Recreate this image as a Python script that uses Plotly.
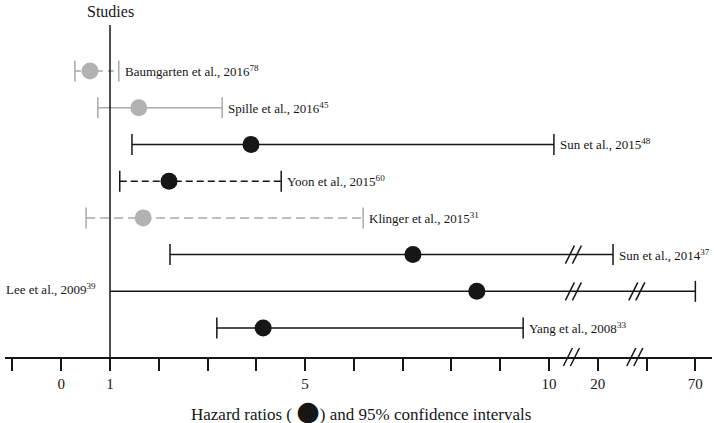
import numpy as np
import plotly.graph_objects as go

# ---------------- data ----------------
studies = ["Baumgarten et al., 2016", "Spille et al., 2016", "Sun et al., 2015",
           "Yoon et al., 2015", "Klinger et al., 2015", "Sun et al., 2014",
           "Lee et al., 2009", "Yang et al., 2008"]
refs = ["78", "45", "48", "60", "31", "37", "39", "33"]
hazard_ratio = [0.59, 1.59, 3.89, 2.21, 1.68, 7.21, 8.52, 4.14]
ci_low = [0.28, 0.75, 1.45, 1.20, 0.51, 2.23, 1.00, 3.19]
ci_high = [1.18, 3.30, 11.0, 4.51, 6.19, 27.8, 70.0, 9.47]
tone = ["gray", "gray", "black", "black", "gray", "black", "black", "black"]
line_dash = ["6px,5px", "solid", "solid", "7px,4px", "9px,5px", "solid", "solid", "solid"]
has_low_cap = [True, True, True, True, True, True, False, True]
label_side = ["right", "right", "right", "right", "right", "right", "left", "right"]

# broken axis: HR values -> axis positions
scale_hr = [0, 10, 20, 70]
scale_pos = [0, 10, 11, 13]
break_hr = [15, 40]
tick_pos = list(range(-1, 14))
tick_text = ["", "0", "1", "", "", "", "5", "", "", "", "", "10", "20", "", "70"]


def to_pos(v):
    return float(np.interp(v, scale_hr, scale_pos))


FONT = "Liberation Serif"
BLACK = "#161616"
GRAY_LINE = "#a9a9a9"
GRAY_MARK = "#b2b2b2"

W, H = 714, 423
ML, MR, MT, MB = 5, 2, 0, 66
PX_PER_X = 48.78          # pixels per axis unit
X0_PIX = 110              # pixel of position 1
ROW0_PIX, ROW_STEP = 71, 36.72

x_range = [1 - (X0_PIX - ML) / PX_PER_X, 1 + (W - MR - X0_PIX) / PX_PER_X]
plot_h = H - MT - MB
y_range = [(plot_h - ROW0_PIX) / ROW_STEP, (MT - ROW0_PIX) / ROW_STEP]

fig = go.Figure()
annotations = []
shapes = []


def slash_pair(xc, yc, xref, yref, up_per_px):
    # "//" : each stroke goes from lower-left to upper-right
    for off in (-3.5, 3.5):
        cx = xc + off / PX_PER_X
        shapes.append(dict(type="line", xref=xref, yref=yref,
                           x0=cx - 4.5 / PX_PER_X, y0=yc - 9 * up_per_px,
                           x1=cx + 4.5 / PX_PER_X, y1=yc + 9 * up_per_px,
                           line=dict(color=BLACK, width=1.5)))


for i, name in enumerate(studies):
    col_line = BLACK if tone[i] == "black" else GRAY_LINE
    col_mark = BLACK if tone[i] == "black" else GRAY_MARK
    lo, hi, pt = to_pos(ci_low[i]), to_pos(ci_high[i]), to_pos(hazard_ratio[i])
    # CI line
    fig.add_trace(go.Scatter(x=[lo, hi], y=[i, i], mode="lines",
                             line=dict(color=col_line, width=1.5, dash=line_dash[i]),
                             hoverinfo="skip", showlegend=False))
    # caps
    cap_x = ([lo] if has_low_cap[i] else []) + [hi]
    fig.add_trace(go.Scatter(x=cap_x, y=[i] * len(cap_x), mode="markers",
                             marker=dict(symbol="line-ns", size=15,
                                         line=dict(color=col_line, width=1.5)),
                             hoverinfo="skip", showlegend=False))
    # point estimate
    fig.add_trace(go.Scatter(x=[pt], y=[i], mode="markers",
                             marker=dict(symbol="circle", size=17, color=col_mark),
                             hoverinfo="skip", showlegend=False))
    # break marks on long lines (y axis reversed: "up" = smaller index)
    for b in break_hr:
        if ci_high[i] > b:
            slash_pair(to_pos(b), i, "x", "y", -1.0 / ROW_STEP)
    # label
    txt = f"{name}<sup>{refs[i]}</sup>"
    if label_side[i] == "right":
        annotations.append(dict(x=hi, y=i, xref="x", yref="y", text=txt,
                                showarrow=False, xanchor="left", yanchor="middle",
                                xshift=4, font=dict(family=FONT, size=13, color=BLACK)))
    else:
        annotations.append(dict(x=1, y=i, xref="x", yref="y", text=txt,
                                showarrow=False, xanchor="right", yanchor="middle",
                                xshift=-12, yshift=2,
                                font=dict(family=FONT, size=13, color=BLACK)))

# vertical axis at HR = 1
shapes.append(dict(type="line", xref="x", yref="paper", x0=to_pos(1), x1=to_pos(1),
                   y0=0, y1=(plot_h - 25) / plot_h, line=dict(color=BLACK, width=1.5)))
# break marks on the x axis
for b in break_hr:
    slash_pair(to_pos(b) - 2 / PX_PER_X, 0, "x", "paper", 1.0 / plot_h)

annotations.append(dict(x=to_pos(1), y=(plot_h - 11) / plot_h, xref="x", yref="paper",
                        text="Studies", showarrow=False, xanchor="center", yanchor="middle",
                        font=dict(family=FONT, size=16, color=BLACK)))
annotations.append(dict(x=(361 - ML) / (W - ML - MR), y=(plot_h - 411) / plot_h,
                        xref="paper", yref="paper",
                        text="Hazard ratios ( <span style='font-family:DejaVu Sans;font-size:27px'>●</span>) and 95% confidence intervals",
                        showarrow=False, xanchor="center", yanchor="middle",
                        font=dict(family=FONT, size=17, color=BLACK)))

fig.update_layout(
    width=W, height=H,
    margin=dict(l=ML, r=MR, t=MT, b=MB),
    paper_bgcolor="white", plot_bgcolor="white",
    showlegend=False,
    xaxis=dict(range=x_range, tickmode="array", tickvals=tick_pos, ticktext=tick_text,
               ticks="outside", ticklen=12, tickwidth=1.5, tickcolor=BLACK,
               showline=True, linecolor=BLACK, linewidth=1.5, showgrid=False,
               zeroline=False, tickfont=dict(family=FONT, size=15, color=BLACK)),
    yaxis=dict(range=y_range, showticklabels=False, showgrid=False, zeroline=False,
               showline=False, ticks=""),
    shapes=shapes,
    annotations=annotations,
)

fig.write_html("out.html", config={"displayModeBar": False},
               post_script="document.body.style.margin='0px';document.body.style.overflow='hidden';")
